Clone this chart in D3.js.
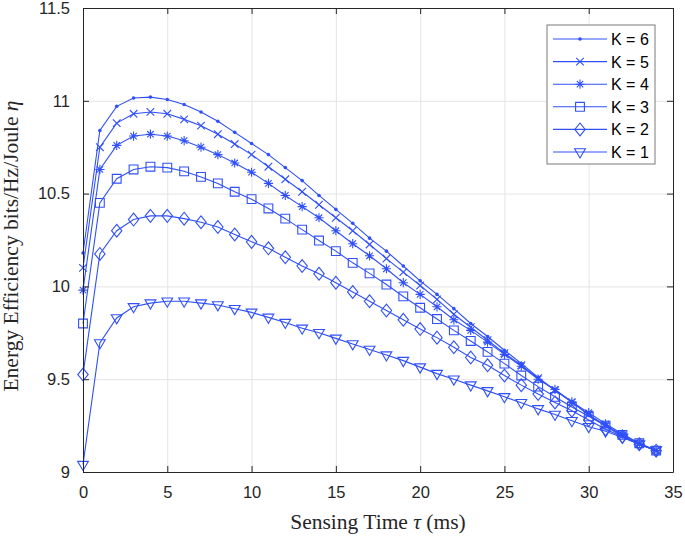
<!DOCTYPE html>
<html>
<head>
<meta charset="utf-8">
<title>Energy Efficiency vs Sensing Time</title>
<script src="https://cdn.jsdelivr.net/npm/d3@7"></script>
<style>
  body { margin: 0; background: #fff; }
</style>
</head>
<body>
<div class="chart-area"></div>
<script>
// sensing time (ms)
var tau = [0,1,2,3,4,5,6,7,8,9,10,11,12,13,14,15,16,17,18,19,20,21,22,23,24,25,26,27,28,29,30,31,32,33,34];

var k6 = [10.18,10.84,10.97,11.015,11.02,11.007,10.98,10.94,10.89,10.83,10.77,10.71,10.64,10.57,10.49,10.415,10.34,10.26,10.19,10.11,10.03,9.957,9.88,9.80,9.73,9.656,9.585,9.51,9.44,9.38,9.306,9.247,9.19,9.15,9.118];
var k5 = [10.10,10.75,10.88,10.93,10.94,10.93,10.90,10.866,10.82,10.767,10.71,10.645,10.577,10.51,10.44,10.37,10.30,10.226,10.15,10.077,10.005,9.93,9.85,9.78,9.71,9.64,9.575,9.505,9.44,9.375,9.31,9.25,9.195,9.15,9.115];
var k4 = [9.98,10.63,10.76,10.81,10.82,10.81,10.785,10.75,10.71,10.665,10.615,10.555,10.49,10.43,10.37,10.30,10.23,10.165,10.095,10.02,9.957,9.89,9.82,9.763,9.70,9.634,9.57,9.50,9.445,9.378,9.32,9.26,9.205,9.155,9.115];
var k3 = [9.80,10.45,10.58,10.63,10.645,10.64,10.62,10.59,10.555,10.51,10.47,10.42,10.365,10.306,10.247,10.19,10.127,10.07,10.01,9.946,9.885,9.824,9.763,9.706,9.647,9.584,9.52,9.46,9.405,9.35,9.30,9.25,9.20,9.155,9.115];
var k2 = [9.525,10.175,10.30,10.36,10.38,10.38,10.365,10.346,10.32,10.28,10.24,10.205,10.157,10.11,10.068,10.02,9.97,9.92,9.87,9.82,9.77,9.724,9.672,9.617,9.575,9.52,9.468,9.42,9.375,9.33,9.28,9.23,9.19,9.15,9.115];
var k1 = [9.04,9.695,9.83,9.89,9.91,9.92,9.92,9.91,9.90,9.88,9.86,9.833,9.805,9.774,9.75,9.72,9.69,9.66,9.63,9.60,9.565,9.53,9.50,9.468,9.437,9.405,9.373,9.34,9.31,9.276,9.244,9.22,9.186,9.15,9.118];

var seriesNames = ['K = 6','K = 5','K = 4','K = 3','K = 2','K = 1'];
var seriesValues = [k6, k5, k4, k3, k2, k1];
var seriesMarkers = ['dot','x','star','square','diamond','tridown'];

var xTicks = [0,5,10,15,20,25,30,35];
var yTicks = [9,9.5,10,10.5,11,11.5];

var W = 685, H = 537;
var margin = { left: 83, right: 12, top: 8, bottom: 65 };
var width = W - margin.left - margin.right,
    height = H - margin.top - margin.bottom;

var blue = '#3050f8';
var axisColor = '#262626';
var tickFont = 'Liberation Sans, Arial, Helvetica, sans-serif';
var labelFont = 'Liberation Serif, Times New Roman, serif';

var svg = d3.select('.chart-area')
    .append('svg')
    .attr('width', W)
    .attr('height', H);

var g = svg.append('g')
    .attr('transform', 'translate(' + margin.left + ',' + margin.top + ')');

var xScale = d3.scaleLinear().domain([0, 35]).range([0, width]);
var yScale = d3.scaleLinear().domain([9, 11.5]).range([height, 0]);

// grid
g.append('g')
    .attr('class', 'grid')
    .call(d3.axisBottom(xScale).tickValues(xTicks).tickSize(height).tickFormat(''))
    .call(function(s){ s.select('.domain').remove(); })
    .selectAll('line').attr('stroke', '#e4e4e4');
g.append('g')
    .attr('class', 'grid')
    .call(d3.axisLeft(yScale).tickValues(yTicks).tickSize(-width).tickFormat(''))
    .call(function(s){ s.select('.domain').remove(); })
    .selectAll('line').attr('stroke', '#e4e4e4');

// marker shapes centred on 0,0
function markerPath(type) {
    switch (type) {
        case 'dot': return null;
        case 'x': var a = 3.8; return 'M'+(-a)+','+(-a)+'L'+a+','+a+'M'+(-a)+','+a+'L'+a+','+(-a);
        case 'star':
            var r = 4.6, d = r * 0.7;
            return 'M0,'+(-r)+'L0,'+r+'M'+(-r)+',0L'+r+',0M'+(-d)+','+(-d)+'L'+d+','+d+'M'+(-d)+','+d+'L'+d+','+(-d);
        case 'square': var s = 4.4; return 'M'+(-s)+','+(-s)+'H'+s+'V'+s+'H'+(-s)+'Z';
        case 'diamond': var w = 5.2, h = 6.4; return 'M0,'+(-h)+'L'+w+',0L0,'+h+'L'+(-w)+',0Z';
        case 'tridown': var t = 5.4; return 'M'+(-t)+','+(-t*0.6)+'L'+t+','+(-t*0.6)+'L0,'+(t*1.1)+'Z';
    }
}

function drawMarker(sel, type) {
    if (type === 'dot') {
        sel.append('circle').attr('r', 1.8).attr('fill', blue);
    } else {
        sel.append('path').attr('d', markerPath(type))
            .attr('fill', 'none').attr('stroke', blue).attr('stroke-width', 1.1);
    }
}

var line = d3.line()
    .x(function(d){ return xScale(d[0]); })
    .y(function(d){ return yScale(d[1]); });

// draw K=1 first so K=6 is on top
for (var i = seriesValues.length - 1; i >= 0; i--) {
    var pts = tau.map(function(t, j){ return [t, seriesValues[i][j]]; });
    var sg = g.append('g').attr('class', 'series');
    sg.append('path')
        .datum(pts)
        .attr('d', line)
        .attr('fill', 'none')
        .attr('stroke', blue)
        .attr('stroke-width', 1.1);
    var type = seriesMarkers[i];
    sg.selectAll('g.mk')
        .data(pts)
        .enter()
        .append('g')
        .attr('class', 'mk')
        .attr('transform', function(d){ return 'translate(' + xScale(d[0]) + ',' + yScale(d[1]) + ')'; })
        .each(function(){ drawMarker(d3.select(this), type); });
}

// axes box with inward ticks
var xAxisB = g.append('g')
    .attr('transform', 'translate(0,' + height + ')')
    .call(d3.axisBottom(xScale).tickValues(xTicks).tickSizeInner(-6).tickSizeOuter(0).tickPadding(14).tickFormat(d3.format('d')));
var yAxisL = g.append('g')
    .call(d3.axisLeft(yScale).tickValues(yTicks).tickSizeInner(-6).tickSizeOuter(0).tickPadding(13).tickFormat(function(d){ return String(d); }));
var xAxisT = g.append('g')
    .call(d3.axisTop(xScale).tickValues(xTicks).tickSizeInner(-6).tickSizeOuter(0).tickFormat(''));
var yAxisR = g.append('g')
    .attr('transform', 'translate(' + width + ',0)')
    .call(d3.axisRight(yScale).tickValues(yTicks).tickSizeInner(-6).tickSizeOuter(0).tickFormat(''));

[xAxisB, yAxisL, xAxisT, yAxisR].forEach(function(a){
    a.select('.domain').attr('stroke', axisColor).attr('stroke-width', 1);
    a.selectAll('.tick line').attr('stroke', axisColor);
    a.selectAll('.tick text')
        .attr('fill', axisColor)
        .style('font-family', tickFont)
        .style('font-size', '16.5px');
});

// axis labels
var xl = svg.append('text')
    .attr('x', margin.left + width / 2)
    .attr('y', 529)
    .attr('text-anchor', 'middle')
    .style('font-family', labelFont)
    .style('font-size', '21.5px')
    .attr('fill', axisColor);
xl.append('tspan').text('Sensing Time ');
xl.append('tspan').style('font-style', 'italic').text('\u03C4');
xl.append('tspan').text(' (ms)');

var yl = svg.append('text')
    .attr('transform', 'translate(18,' + (margin.top + height / 2 + 6) + ') rotate(-90)')
    .attr('text-anchor', 'middle')
    .style('font-family', labelFont)
    .style('font-size', '21.5px')
    .attr('fill', axisColor);
yl.append('tspan').text('Energy Efficiency bits/Hz/Joule ');
yl.append('tspan').style('font-style', 'italic').text('\u03B7');

// legend
var legend = svg.append('g').attr('transform', 'translate(547,25)');
legend.append('rect')
    .attr('width', 108).attr('height', 139)
    .attr('fill', '#fff').attr('stroke', '#7a7a7a').attr('stroke-width', 1);
seriesNames.forEach(function(name, i){
    var ly = 14 + i * 22.6;
    var row = legend.append('g').attr('transform', 'translate(0,' + ly + ')');
    row.append('line').attr('x1', 6).attr('x2', 60).attr('y1', 0).attr('y2', 0)
        .attr('stroke', blue).attr('stroke-width', 1.1);
    var m = row.append('g').attr('transform', 'translate(33,0)');
    drawMarker(m, seriesMarkers[i]);
    row.append('text').attr('x', 64).attr('y', 6)
        .style('font-family', tickFont).style('font-size', '16px')
        .attr('fill', '#000')
        .text(name);
});
</script>
</body>
</html>
